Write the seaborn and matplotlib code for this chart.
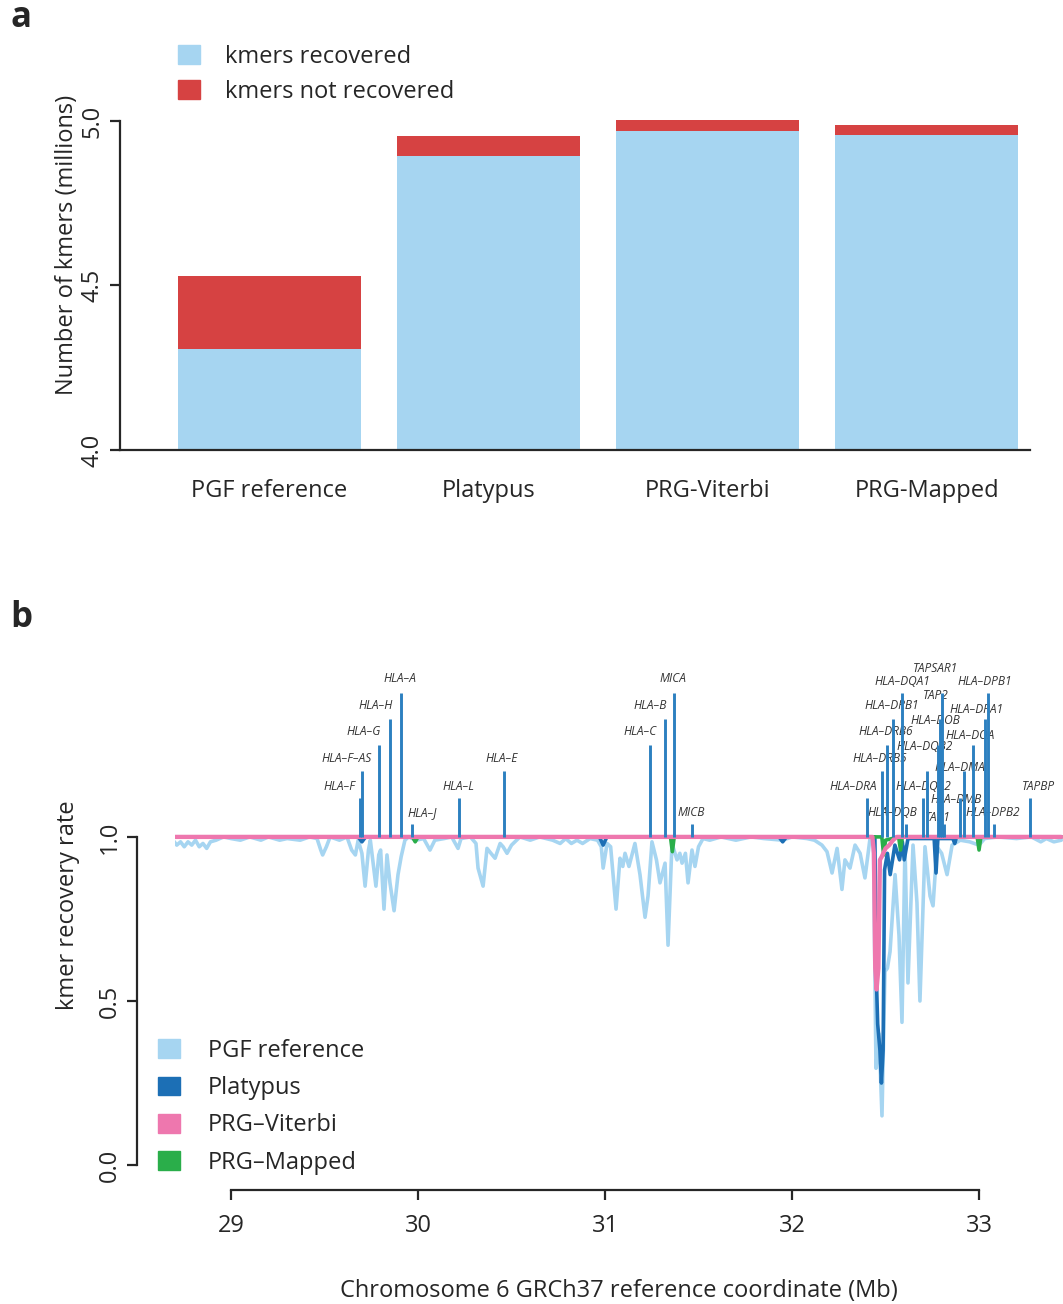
import numpy as np
import pandas as pd
import matplotlib
matplotlib.use("Agg")
import matplotlib.pyplot as plt
from matplotlib.patches import Patch
import seaborn as sns

# ===============================
# DATA - panel a
# ===============================
methods = ["PGF reference", "Platypus", "PRG-Viterbi", "PRG-Mapped"]
kmers_recovered = [4.307, 4.894, 4.970, 4.957]
kmers_total = [4.529, 4.954, 5.003, 4.988]

# ===============================
# DATA - panel b (Mb, recovery rate)
# ===============================
pgf_x = [28.69, 28.71, 28.73, 28.75, 28.77, 28.79, 28.81, 28.83, 28.85, 28.87,
         28.89, 28.92, 28.96, 29.00, 29.05, 29.10, 29.16, 29.20, 29.26, 29.30,
         29.37, 29.42, 29.46, 29.48, 29.49, 29.51, 29.53, 29.58, 29.62, 29.645,
         29.665, 29.68, 29.70, 29.717, 29.735, 29.745, 29.76, 29.775, 29.79, 29.80,
         29.818, 29.834, 29.85, 29.872, 29.893, 29.91, 29.93, 29.95, 29.99, 30.03,
         30.064, 30.09, 30.14, 30.18, 30.214, 30.23, 30.28, 30.31, 30.321, 30.348,
         30.369, 30.39, 30.412, 30.439, 30.455, 30.476, 30.50, 30.545, 30.60, 30.65,
         30.72, 30.76, 30.79, 30.82, 30.85, 30.88, 30.92, 30.96, 30.98, 30.99,
         31.011, 31.03, 31.059, 31.08, 31.095, 31.107, 31.128, 31.16, 31.187, 31.214,
         31.23, 31.251, 31.275, 31.294, 31.321, 31.337, 31.358, 31.385, 31.40, 31.412,
         31.43, 31.444, 31.465, 31.481, 31.50, 31.524, 31.56, 31.62, 31.70, 31.78,
         31.85, 31.95, 32.00, 32.08, 32.12, 32.16, 32.187, 32.214, 32.241, 32.267,
         32.283, 32.31, 32.337, 32.364, 32.39, 32.417, 32.435, 32.449, 32.465, 32.481,
         32.497, 32.51, 32.524, 32.551, 32.572, 32.588, 32.604, 32.62, 32.647, 32.668,
         32.684, 32.711, 32.738, 32.754, 32.775, 32.80, 32.829, 32.856, 32.90, 32.95,
         33.00, 33.03, 33.10, 33.20, 33.28, 33.33, 33.36, 33.40, 33.44]
pgf_y = [0.99, 0.975, 0.985, 0.97, 0.985, 0.975, 0.99, 0.97, 0.98, 0.965,
         0.985, 0.99, 1.0, 0.995, 0.99, 1.0, 0.99, 1.0, 0.99, 0.995,
         0.99, 1.0, 0.995, 0.96, 0.945, 0.97, 1.0, 0.99, 1.0, 0.96,
         0.945, 0.99, 0.95, 0.85, 0.96, 0.99, 0.92, 0.85, 0.945, 0.96,
         0.78, 0.945, 0.86, 0.775, 0.885, 0.94, 0.99, 1.0, 0.99, 0.995,
         0.96, 0.99, 0.995, 1.0, 0.965, 0.995, 1.0, 0.98, 0.905, 0.85,
         0.965, 0.95, 0.935, 0.98, 0.97, 0.95, 0.975, 1.0, 0.99, 1.0,
         0.99, 0.98, 0.995, 0.98, 0.99, 0.98, 0.995, 0.99, 0.97, 0.905,
         0.98, 0.97, 0.78, 0.935, 0.91, 0.95, 0.91, 0.98, 0.885, 0.755,
         0.82, 0.985, 0.93, 0.86, 0.92, 0.67, 0.98, 0.93, 0.95, 0.92,
         0.95, 0.86, 0.96, 0.91, 0.97, 0.995, 0.99, 1.0, 0.99, 1.0,
         0.995, 0.99, 1.0, 0.995, 0.99, 0.975, 0.955, 0.89, 0.965, 0.84,
         0.93, 0.905, 0.975, 0.95, 0.875, 0.995, 0.99, 0.295, 0.40, 0.15,
         0.59, 0.60, 0.65, 0.885, 0.70, 0.435, 0.97, 0.555, 0.975, 0.80,
         0.50, 0.97, 0.82, 0.79, 0.97, 0.95, 0.885, 0.975, 0.99, 0.985,
         0.975, 0.995, 1.0, 0.995, 1.0, 0.985, 0.995, 0.985, 0.99]

platypus_x = [28.69, 29.68, 29.70, 29.72, 30.97, 30.99, 31.01, 31.93, 31.95, 31.97,
              32.43, 32.443, 32.452, 32.458, 32.47, 32.478, 32.487, 32.495, 32.51, 32.525,
              32.55, 32.575, 32.59, 32.60, 32.62, 32.76, 32.77, 32.78, 32.86, 32.87,
              32.88, 33.44]
platypus_y = [1.0, 1.0, 0.985, 1.0, 1.0, 0.975, 1.0, 1.0, 0.985, 1.0,
              1.0, 1.0, 0.55, 0.43, 0.35, 0.25, 0.35, 0.90, 0.95, 0.885,
              0.975, 0.93, 0.985, 0.93, 0.995, 0.995, 0.89, 0.995, 0.995, 0.98,
              1.0, 1.0]

viterbi_x = [28.69, 32.43, 32.438, 32.445, 32.452, 32.462, 32.47, 32.48, 32.50, 32.52,
             32.54, 32.56, 33.44]
viterbi_y = [1.0, 1.0, 0.95, 0.60, 0.535, 0.60, 0.93, 0.94, 0.965, 0.975,
             0.99, 1.0, 1.0]

mapped_x = [28.69, 29.97, 29.985, 30.0, 31.35, 31.36, 31.37, 32.48, 32.49, 32.50,
            32.57, 32.58, 32.59, 32.99, 33.00, 33.01, 33.44]
mapped_y = [1.0, 1.0, 0.985, 1.0, 1.0, 0.955, 1.0, 1.0, 0.945, 0.99,
            1.0, 0.96, 1.0, 1.0, 0.96, 1.0, 1.0]

# gene annotation: position (Mb), bar height above 1.0
genes = ["HLA–F", "HLA–F–AS", "HLA–G", "HLA–H", "HLA–A", "HLA–J", "HLA–L", "HLA–E",
         "HLA–C", "HLA–B", "MICA", "MICB", "HLA–DRA", "HLA–DRB5", "HLA–DRB6", "HLA–DRB1",
         "HLA–DQA1", "HLA–DQB", "HLA–DQA2", "HLA–DQB2", "HLA–DOB", "TAP2", "TAPSAR1", "TAP1",
         "HLA–DMB", "HLA–DMA", "HLA–DOA", "HLA–DPA1", "HLA–DPB1", "HLA–DPB2", "TAPBP"]
gene_pos = [29.69, 29.70, 29.79, 29.85, 29.91, 29.97, 30.22, 30.46,
            31.24, 31.32, 31.37, 31.465, 32.40, 32.48, 32.51, 32.54,
            32.59, 32.61, 32.70, 32.72, 32.78, 32.79, 32.80, 32.81,
            32.90, 32.92, 32.97, 33.03, 33.05, 33.08, 33.27]
gene_height = [0.12, 0.20, 0.28, 0.36, 0.44, 0.04, 0.12, 0.20,
               0.28, 0.36, 0.44, 0.04, 0.12, 0.20, 0.28, 0.36,
               0.44, 0.04, 0.12, 0.20, 0.28, 0.36, 0.44, 0.04,
               0.12, 0.20, 0.28, 0.36, 0.44, 0.04, 0.12]
label_x = [29.578, 29.620, 29.711, 29.775, 29.904, 30.021, 30.219, 30.449,
           31.187, 31.241, 31.364, 31.460, 32.326, 32.471, 32.503, 32.535,
           32.588, 32.535, 32.701, 32.711, 32.765, 32.770, 32.765, 32.781,
           32.877, 32.898, 32.952, 32.989, 33.032, 33.075, 33.316]
label_y = [1.155, 1.238, 1.320, 1.399, 1.482, 1.073, 1.155, 1.238,
           1.320, 1.399, 1.482, 1.073, 1.155, 1.238, 1.320, 1.399,
           1.473, 1.073, 1.155, 1.277, 1.354, 1.430, 1.512, 1.058,
           1.113, 1.213, 1.308, 1.387, 1.473, 1.073, 1.155]

# ===============================
# STYLE
# ===============================
sns.set_style("ticks")
plt.rcParams["font.family"] = ["Open Sans", "DejaVu Sans"]
FS = 17
plt.rcParams["font.size"] = FS

c_light = "#A6D5F1"
c_red = "#D64242"
c_dark = "#1C6FB5"
c_pink = "#EE77AE"
c_green = "#2AAE4A"
c_gene = "#2C80C0"

W, H = 1063, 1304
fig = plt.figure(figsize=(W / 100, H / 100), dpi=100)


def px_axes(left, top, right, bottom):
    return fig.add_axes([left / W, 1 - bottom / H, (right - left) / W, (bottom - top) / H])


# ===============================
# PANEL A
# ===============================
ax1 = px_axes(120, 40, 1030, 450)
df_a = pd.DataFrame({"method": methods, "recovered": kmers_recovered, "total": kmers_total})
sns.barplot(data=df_a, x="method", y="total", color=c_red, width=0.835, saturation=1, ax=ax1)
sns.barplot(data=df_a, x="method", y="recovered", color=c_light, width=0.835, saturation=1, ax=ax1)
for p in ax1.patches:
    p.set_edgecolor("none")
ax1.set_xlim(-0.682, 3.47)
ax1.set_ylim(4.0, 5.246)
sns.despine(ax=ax1)
ax1.spines["left"].set_bounds(4.0, 5.0)
ax1.spines["left"].set_linewidth(1.6)
ax1.spines["bottom"].set_linewidth(1.6)
ax1.set_yticks([4.0, 4.5, 5.0])
ax1.set_yticklabels(["4.0", "4.5", "5.0"], rotation=90, va="center")
ax1.tick_params(axis="y", length=7, width=1.6, pad=4, labelsize=FS)
ax1.tick_params(axis="x", length=0, pad=21, labelsize=FS)
ax1.set_xlabel("")
ax1.set_ylabel("Number of kmers (millions)", fontsize=FS, labelpad=1)
ax1.legend(handles=[Patch(color=c_light), Patch(color=c_red)],
           labels=["kmers recovered", "kmers not recovered"],
           loc="upper left", bbox_to_anchor=((178 - 120) / 910, (450 - 45) / 410),
           frameon=False, handlelength=0.95, handleheight=0.85, handletextpad=1.05,
           labelspacing=0.45, borderpad=0.0, borderaxespad=0.0, fontsize=FS)

# ===============================
# PANEL B
# ===============================
ax2 = px_axes(175, 640, 1063, 1170)
lw = 2.6
sns.lineplot(x=pgf_x, y=pgf_y, color=c_light, lw=lw, estimator=None, sort=False, ax=ax2)
sns.lineplot(x=platypus_x, y=platypus_y, color=c_dark, lw=lw, estimator=None, sort=False, ax=ax2)
sns.lineplot(x=mapped_x, y=mapped_y, color=c_green, lw=lw, estimator=None, sort=False, ax=ax2)
sns.lineplot(x=viterbi_x, y=viterbi_y, color=c_pink, lw=lw + 0.5, estimator=None, sort=False, ax=ax2)

ax2.vlines(gene_pos, 1.0, [1.0 + h for h in gene_height], color=c_gene, lw=2.1, zorder=5)
for name, lx, ly in zip(genes, label_x, label_y):
    ax2.text(lx, ly, name, fontsize=8.6, style="italic", color="#333333",
             ha="center", va="center", zorder=4)

ax2.set_xlim(28.7005, 33.449)
ax2.set_ylim(-0.015, 1.6)
sns.despine(ax=ax2)
ax2.spines["left"].set_position(("outward", 27.4))
ax2.spines["bottom"].set_position(("outward", 14.4))
ax2.spines["left"].set_bounds(0.0, 1.0)
ax2.spines["bottom"].set_bounds(29, 33)
ax2.spines["left"].set_linewidth(1.6)
ax2.spines["bottom"].set_linewidth(1.6)
ax2.set_xticks([29, 30, 31, 32, 33])
ax2.set_yticks([0.0, 0.5, 1.0])
ax2.set_yticklabels(["0.0", "0.5", "1.0"], rotation=90, va="center")
ax2.tick_params(axis="both", length=7, width=1.6, labelsize=FS)
ax2.tick_params(axis="y", pad=4)
ax2.tick_params(axis="x", pad=10)
ax2.set_xlabel("Chromosome 6 GRCh37 reference coordinate (Mb)", fontsize=FS, labelpad=30)
ax2.set_ylabel("kmer recovery rate", fontsize=FS, labelpad=13)

fig.legend(handles=[Patch(color=c) for c in [c_light, c_dark, c_pink, c_green]],
           labels=["PGF reference", "Platypus", "PRG–Viterbi", "PRG–Mapped"],
           loc="upper left", bbox_to_anchor=(158 / W, 1 - 1039 / H),
           frameon=False, handlelength=0.95, handleheight=0.85, handletextpad=1.15,
           labelspacing=0.56, borderpad=0.0, borderaxespad=0.0, fontsize=FS)

# panel letters
fig.text(10 / W, 1 - 18 / H, "a", fontsize=25, fontweight="bold", va="center", ha="left")
fig.text(10 / W, 1 - 618 / H, "b", fontsize=25, fontweight="bold", va="center", ha="left")

fig.savefig("out.png", dpi=100)
